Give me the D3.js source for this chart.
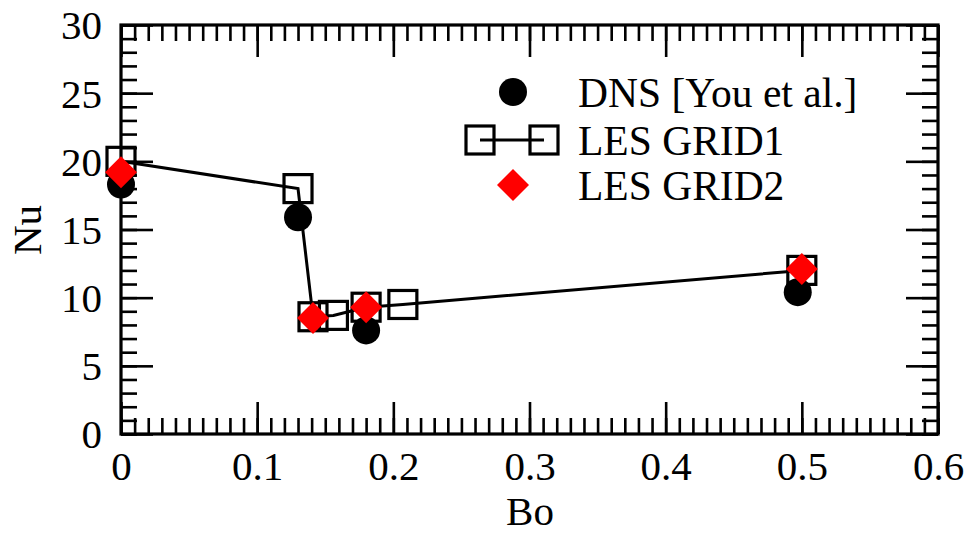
<!DOCTYPE html>
<html>
<head>
<meta charset="utf-8">
<script src="https://cdn.jsdelivr.net/npm/d3@7"></script>
<style>
  body { margin: 0; background: #fff; }
  text { font-family: "Liberation Serif", "DejaVu Serif", serif; fill: #000; }
</style>
</head>
<body>
<svg id="chart" width="971" height="534"></svg>
<script>
// DNS [You et al.]
var dnsBo = [0, 0.13, 0.18, 0.497];
var dnsNu = [18.3, 15.9, 7.6, 10.4];
// LES GRID1 (squares + line)
var grid1Bo = [0, 0.13, 0.141, 0.156, 0.18, 0.207, 0.5];
var grid1Nu = [20.0, 18.0, 8.6, 8.7, 9.3, 9.5, 12.0];
// LES GRID2 (red diamonds)
var grid2Bo = [0, 0.141, 0.18, 0.5];
var grid2Nu = [19.2, 8.5, 9.3, 12.1];

var xTicks = [0, 0.1, 0.2, 0.3, 0.4, 0.5, 0.6];
var yTicks = [0, 5, 10, 15, 20, 25, 30];
var legendLabels = ['DNS [You et al.]', 'LES GRID1', 'LES GRID2'];

// plot box (window.top is reserved, so use other names)
var boxL = 121, boxR = 938, boxT = 25, boxB = 434;
var svg = d3.select('#chart');

var x = d3.scaleLinear().domain([0, 0.6]).range([boxL, boxR]);
var y = d3.scaleLinear().domain([0, 30]).range([boxB, boxT]);

var xMinor = d3.range(0, 61).map(function(i) { return i / 100; });
var yMinor = d3.range(0, 31);
var fmtX = function(d) { return d === 0 ? '0' : d3.format('.1f')(d); };

// axes: ticks drawn inward on all four sides
function styleAxis(g) {
  g.attr('font-size', null).attr('font-family', null);
  g.select('.domain').remove();
  g.selectAll('.tick line').attr('stroke', '#000').attr('stroke-width', 2.6);
}

svg.append('g').attr('transform', 'translate(0,' + boxB + ')')
  .call(d3.axisBottom(x).tickValues(xMinor).tickSize(-16).tickFormat(''))
  .call(styleAxis);
svg.append('g').attr('transform', 'translate(0,' + boxB + ')')
  .call(d3.axisBottom(x).tickValues(xTicks).tickSize(-32).tickPadding(0).tickFormat(fmtX))
  .call(styleAxis)
  .call(function(g) {
    g.selectAll('text').attr('y', 46).attr('dy', null).style('font-size', '41px');
  });
svg.append('g').attr('transform', 'translate(0,' + boxT + ')')
  .call(d3.axisTop(x).tickValues(xMinor).tickSize(-16).tickFormat(''))
  .call(styleAxis);
svg.append('g').attr('transform', 'translate(0,' + boxT + ')')
  .call(d3.axisTop(x).tickValues(xTicks).tickSize(-32).tickFormat(''))
  .call(styleAxis);

svg.append('g').attr('transform', 'translate(' + boxL + ',0)')
  .call(d3.axisLeft(y).tickValues(yMinor).tickSize(-16).tickFormat(''))
  .call(styleAxis);
svg.append('g').attr('transform', 'translate(' + boxL + ',0)')
  .call(d3.axisLeft(y).tickValues(yTicks).tickSize(-32).tickFormat(d3.format('d')))
  .call(styleAxis)
  .call(function(g) {
    g.selectAll('text').attr('x', -19).attr('dy', '0.34em').style('font-size', '41px');
  });
svg.append('g').attr('transform', 'translate(' + boxR + ',0)')
  .call(d3.axisRight(y).tickValues(yMinor).tickSize(-16).tickFormat(''))
  .call(styleAxis);
svg.append('g').attr('transform', 'translate(' + boxR + ',0)')
  .call(d3.axisRight(y).tickValues(yTicks).tickSize(-32).tickFormat(''))
  .call(styleAxis);

// frame
svg.append('rect')
  .attr('x', boxL).attr('y', boxT)
  .attr('width', boxR - boxL).attr('height', boxB - boxT)
  .attr('fill', 'none').attr('stroke', '#000').attr('stroke-width', 3.2);

// axis titles
svg.append('text').attr('x', 530).attr('y', 525)
  .attr('text-anchor', 'middle').style('font-size', '41px').text('Bo');
svg.append('text')
  .attr('transform', 'translate(41,230) rotate(-90)')
  .attr('text-anchor', 'middle').style('font-size', '41px').text('Nu');

// DNS circles
svg.append('g').selectAll('circle')
  .data(d3.zip(dnsBo, dnsNu))
  .enter().append('circle')
    .attr('cx', function(d) { return x(d[0]); })
    .attr('cy', function(d) { return y(d[1]); })
    .attr('r', 14)
    .attr('fill', '#000');

// GRID1 line + open squares
var line = d3.line()
  .x(function(d) { return x(d[0]); })
  .y(function(d) { return y(d[1]); });
var g1 = d3.zip(grid1Bo, grid1Nu);
svg.append('path').datum(g1)
  .attr('d', line).attr('fill', 'none')
  .attr('stroke', '#000').attr('stroke-width', 3);
svg.append('g').selectAll('rect')
  .data(g1)
  .enter().append('rect')
    .attr('x', function(d) { return x(d[0]) - 14; })
    .attr('y', function(d) { return y(d[1]) - 14; })
    .attr('width', 28).attr('height', 28)
    .attr('fill', 'none').attr('stroke', '#000').attr('stroke-width', 3.2);

// GRID2 red diamonds
var diamond = 'M0,-16L16,0L0,16L-16,0Z';
svg.append('g').selectAll('path')
  .data(d3.zip(grid2Bo, grid2Nu))
  .enter().append('path')
    .attr('d', diamond)
    .attr('transform', function(d) { return 'translate(' + x(d[0]) + ',' + y(d[1]) + ')'; })
    .attr('fill', '#f00');

// legend
var legY = [92, 140, 185];
var leg = svg.append('g');
leg.selectAll('text')
  .data(legendLabels)
  .enter().append('text')
    .attr('x', 578)
    .attr('y', function(d, i) { return legY[i]; })
    .attr('dy', '0.35em')
    .style('font-size', '41.5px')
    .text(function(d) { return d; });
leg.append('circle').attr('cx', 513).attr('cy', legY[0]).attr('r', 14).attr('fill', '#000');
leg.append('line').attr('x1', 480).attr('x2', 544)
  .attr('y1', legY[1]).attr('y2', legY[1])
  .attr('stroke', '#000').attr('stroke-width', 3);
[480, 544].forEach(function(cx) {
  leg.append('rect').attr('x', cx - 14).attr('y', legY[1] - 14)
    .attr('width', 28).attr('height', 28)
    .attr('fill', 'none').attr('stroke', '#000').attr('stroke-width', 3.2);
});
leg.append('path').attr('d', diamond)
  .attr('transform', 'translate(513,' + legY[2] + ')').attr('fill', '#f00');
</script>
</body>
</html>
